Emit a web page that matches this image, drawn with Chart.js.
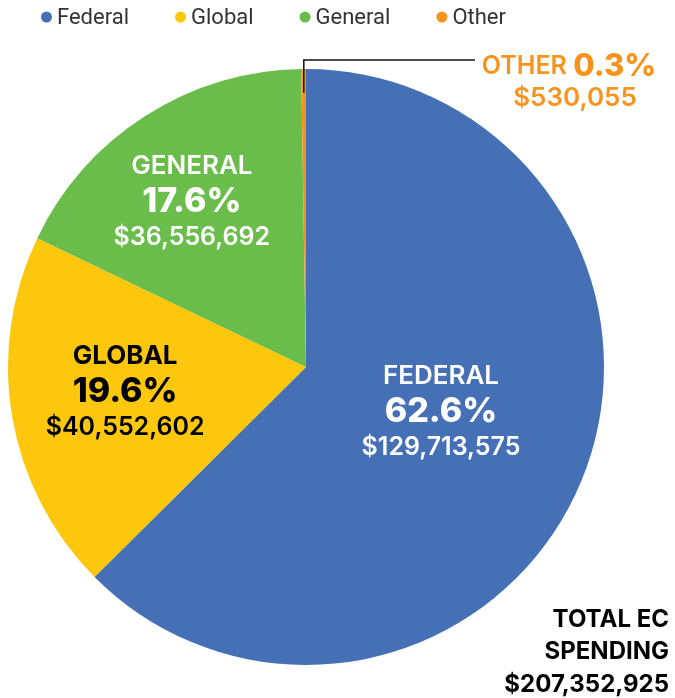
<!DOCTYPE html>
<html>
<head>
<meta charset="utf-8">
<script src="https://cdn.jsdelivr.net/npm/chart.js@4.4.1/dist/chart.umd.min.js"></script>
<style>
  html, body { margin: 0; padding: 0; background: #fff; }
  #wrap { width: 675px; height: 698px; }
</style>
</head>
<body>
<div id="wrap"><canvas id="EcChart"></canvas></div>
<script>
// ================= Data =================
const categories = ['Federal', 'Global', 'General', 'Other'];
const amounts = [129713575, 40552602, 36556692, 530055];
const colors = ['#4670b5', '#fcc70d', '#6abd4b', '#f7941d'];
const totalLines = ['TOTAL EC', 'SPENDING', '$207,352,925'];

const grandTotal = amounts.reduce((a, b) => a + b, 0);
const pct = v => (v / grandTotal * 100).toFixed(1) + '%';
const money = v => '$' + v.toLocaleString('en-US');

const FONT = 'Inter, "Open Sans", sans-serif';

// ================= Legend (top) =================
const topLegend = {
  id: 'topLegend',
  afterDraw(chart) {
    const ctx = chart.ctx;
    ctx.save();
    ctx.font = '22px Roboto, sans-serif';
    ctx.textBaseline = 'middle';
    ctx.textAlign = 'left';
    let x = 41;
    const y = 17;
    categories.forEach((name, i) => {
      ctx.fillStyle = colors[i];
      ctx.beginPath();
      ctx.arc(x + 5.5, y, 5.5, 0, Math.PI * 2);
      ctx.fill();
      ctx.fillStyle = '#333';
      ctx.fillText(name, x + 16, y + 1);
      x += 16 + ctx.measureText(name).width + 46;
    });
    ctx.restore();
  }
};

// ================= Slice labels =================
// label anchor, as a fraction of the radius from the pie centre
const labelSpots = [
  { fx: 0.453, fy: 0.144, color: '#fff', nameWeight: 600 },
  { fx: -0.607, fy: 0.077, color: '#000', nameWeight: 700 },
  { fx: -0.383, fy: -0.562, color: '#fff', nameWeight: 600 }
];

function capText(ctx, text, x, capMid, size) {
  ctx.fillText(text, x, capMid + size * 0.727 / 2);
}

const sliceLabels = {
  id: 'sliceLabels',
  afterDatasetsDraw(chart) {
    const ctx = chart.ctx;
    const arcs = chart.getDatasetMeta(0).data;
    const cx = arcs[0].x, cy = arcs[0].y, r = arcs[0].outerRadius;
    ctx.save();
    ctx.textAlign = 'center';
    ctx.textBaseline = 'alphabetic';

    labelSpots.forEach((s, i) => {
      const x = cx + s.fx * r;
      const y = cy + s.fy * r;
      ctx.fillStyle = s.color;
      ctx.font = `${s.nameWeight} 26px ${FONT}`;
      capText(ctx, categories[i].toUpperCase(), x, y - 35, 26);
      ctx.font = `800 34px ${FONT}`;
      capText(ctx, pct(amounts[i]), x, y, 34);
      ctx.font = `600 25px ${FONT}`;
      capText(ctx, money(amounts[i]), x, y + 36, 25);
    });

    // Other: outside label with leader line
    const o = arcs[3];
    const mid = (o.startAngle + o.endAngle) / 2;
    const px = cx + Math.cos(mid) * r * 0.92;
    const py = cy + Math.sin(mid) * r * 0.92;
    const topY = cy - r - 9;
    ctx.strokeStyle = '#111';
    ctx.lineWidth = 1.5;
    ctx.beginPath();
    ctx.moveTo(px, py);
    ctx.lineTo(px, topY);
    ctx.lineTo(475, topY);
    ctx.stroke();

    const lx = 569;
    ctx.fillStyle = colors[3];
    ctx.textAlign = 'left';
    const part1 = categories[3].toUpperCase() + ' ';
    const part2 = pct(amounts[3]);
    ctx.font = `600 25px ${FONT}`;
    const w1 = ctx.measureText(part1).width;
    ctx.font = `800 31px ${FONT}`;
    const w2 = ctx.measureText(part2).width;
    const sx = lx - (w1 + w2) / 2;
    ctx.font = `600 25px ${FONT}`;
    capText(ctx, part1, sx, 65, 25);
    ctx.font = `800 31px ${FONT}`;
    capText(ctx, part2, sx + w1, 65, 31);
    ctx.textAlign = 'center';
    ctx.font = `600 26px ${FONT}`;
    capText(ctx, money(amounts[3]), 575, 97, 26);

    // total
    ctx.fillStyle = '#000';
    ctx.textAlign = 'right';
    ctx.font = `700 24px ${FONT}`;
    [618, 650, 683].forEach((yy, i) => capText(ctx, totalLines[i], 669, yy, 24));
    ctx.restore();
  }
};

// ================= Chart =================
const ctx = document.getElementById('EcChart').getContext('2d');
new Chart(ctx, {
  type: 'pie',
  data: {
    labels: categories,
    datasets: [{
      data: amounts,
      backgroundColor: colors,
      borderWidth: 0
    }]
  },
  options: {
    responsive: true,
    maintainAspectRatio: false,
    animation: false,
    layout: { padding: { left: 8, right: 71, top: 69, bottom: 33 } },
    plugins: {
      legend: { display: false },
      tooltip: { enabled: false }
    }
  },
  plugins: [topLegend, sliceLabels]
});
</script>
</body>
</html>
